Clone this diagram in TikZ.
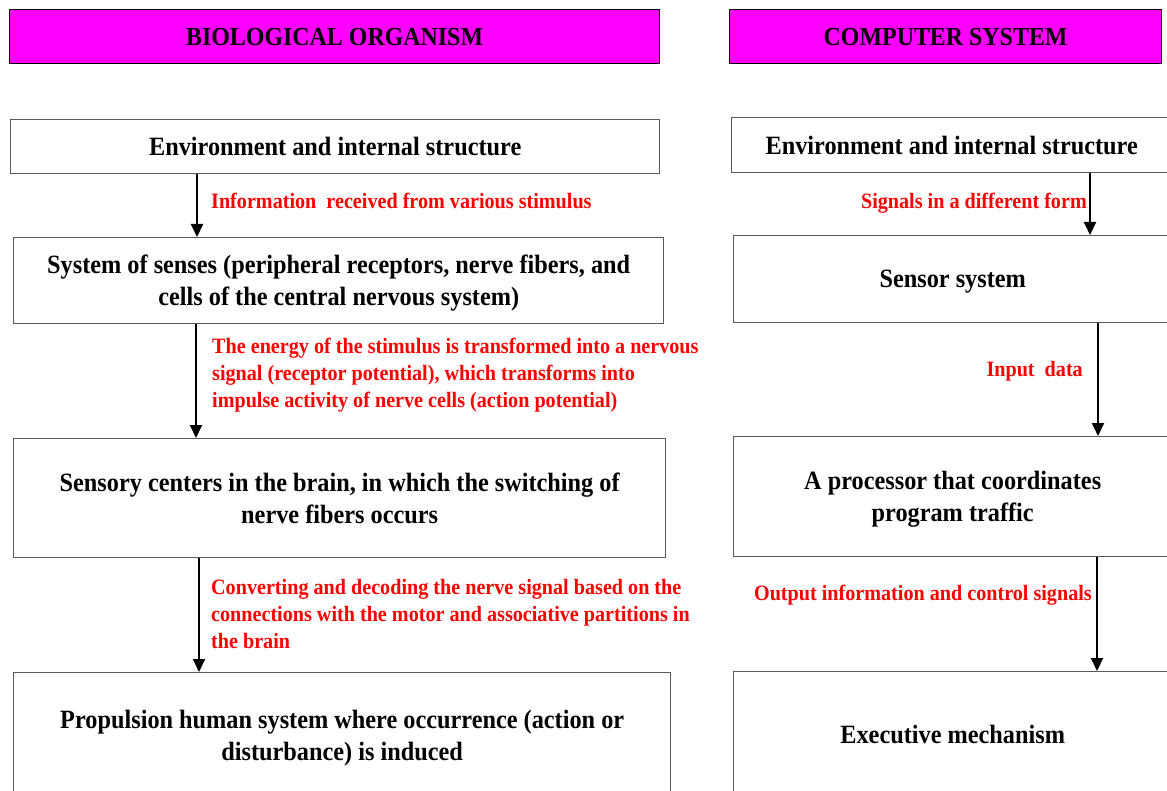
\documentclass[tikz,border=0pt]{standalone}
\usepackage{fontspec}
\setmainfont{Liberation Serif}[FakeStretch=0.92]
\usetikzlibrary{arrows.meta}
\definecolor{hdrfill}{RGB}{255,0,255}
\definecolor{lblred}{RGB}{255,0,0}
\definecolor{boxline}{RGB}{90,90,90}
\tikzset{
  header/.style={draw=black, line width=1.2pt, fill=hdrfill, anchor=north west, inner sep=0pt,
    font=\fontsize{26pt}{31pt}\selectfont\bfseries},
  stagebox/.style={draw=boxline, line width=1.4pt, anchor=north west, inner sep=0pt, align=center,
    text depth=0pt, font=\fontsize{26.4pt}{32pt}\selectfont\bfseries},
  flowlabel/.style={text=lblred, inner sep=0pt,
    font=\fontsize{21.9pt}{27pt}\selectfont\bfseries},
  flowarrow/.style={line width=2pt, -{Triangle[length=13pt,width=12pt]}}
}
\begin{document}
\begin{tikzpicture}[x=1pt,y=-1pt]
\useasboundingbox (0,0) rectangle (1167,791);
\clip (0,0) rectangle (1167,791);

% column headers
\node[header, minimum width=650pt, minimum height=54pt] (hL) at (9,9) {BIOLOGICAL ORGANISM};
\node[header, minimum width=432pt, minimum height=54pt] (hR) at (729,9) {COMPUTER SYSTEM};

% biological organism column
\node[stagebox, minimum width=649pt, minimum height=54pt] (L1) at (10,119)
  {Environment and internal structure};
\node[stagebox, minimum width=650pt, minimum height=86pt] (L2) at (13,237)
  {System of senses (peripheral receptors, nerve fibers, and\\cells of the central nervous system)};
\node[stagebox, minimum width=652pt, minimum height=119pt] (L3) at (13,438)
  {Sensory centers in the brain, in which the switching of\\nerve fibers occurs};
\node[stagebox, minimum width=657pt, minimum height=125pt] (L4) at (13,672)
  {Propulsion human system where occurrence (action or\\disturbance) is induced};

% computer system column
\node[stagebox, minimum width=440pt, minimum height=55pt] (R1) at (731,117)
  {Environment and internal structure};
\node[stagebox, minimum width=438pt, minimum height=87pt] (R2) at (733,235)
  {Sensor system};
\node[stagebox, minimum width=438pt, minimum height=120pt] (R3) at (733,436)
  {A processor that coordinates\\program traffic};
\node[stagebox, minimum width=438pt, minimum height=126pt] (R4) at (733,671)
  {Executive mechanism};

% arrow columns
\coordinate (xa) at (197,0);
\coordinate (xb) at (196,0);
\coordinate (xc) at (199,0);
\coordinate (xd) at (1090,0);
\coordinate (xe) at (1098,0);
\coordinate (xf) at (1097,0);

\draw[flowarrow] (L1.south -| xa) -- (L2.north -| xa);
\draw[flowarrow] (L2.south -| xb) -- (L3.north -| xb);
\draw[flowarrow] (L3.south -| xc) -- (L4.north -| xc);
\draw[flowarrow] (R1.south -| xd) -- (R2.north -| xd);
\draw[flowarrow] (R2.south -| xe) -- (R3.north -| xe);
\draw[flowarrow] (R3.south -| xf) -- (R4.north -| xf);

% arrow labels
\node[flowlabel, anchor=west] (tL1) at (211,201) {Information\ \ received from various stimulus};
\node[flowlabel, anchor=west, align=left] (tL2) at (212,375)
  {The energy of the stimulus is transformed into a nervous\\signal (receptor potential), which transforms into\\impulse activity of nerve cells (action potential)};
\node[flowlabel, anchor=west, align=left] (tL3) at (211,614)
  {Converting and decoding the nerve signal based on the\\connections with the motor and associative partitions in\\the brain};
\node[flowlabel, anchor=east] (tR1) at (1087,203) {Signals in a different form};
\node[flowlabel, anchor=east] (tR2) at (1083,371) {Input\ \ data};
\node[flowlabel, anchor=east] (tR3) at (1092,595) {Output information and control signals};
\end{tikzpicture}
\end{document}
